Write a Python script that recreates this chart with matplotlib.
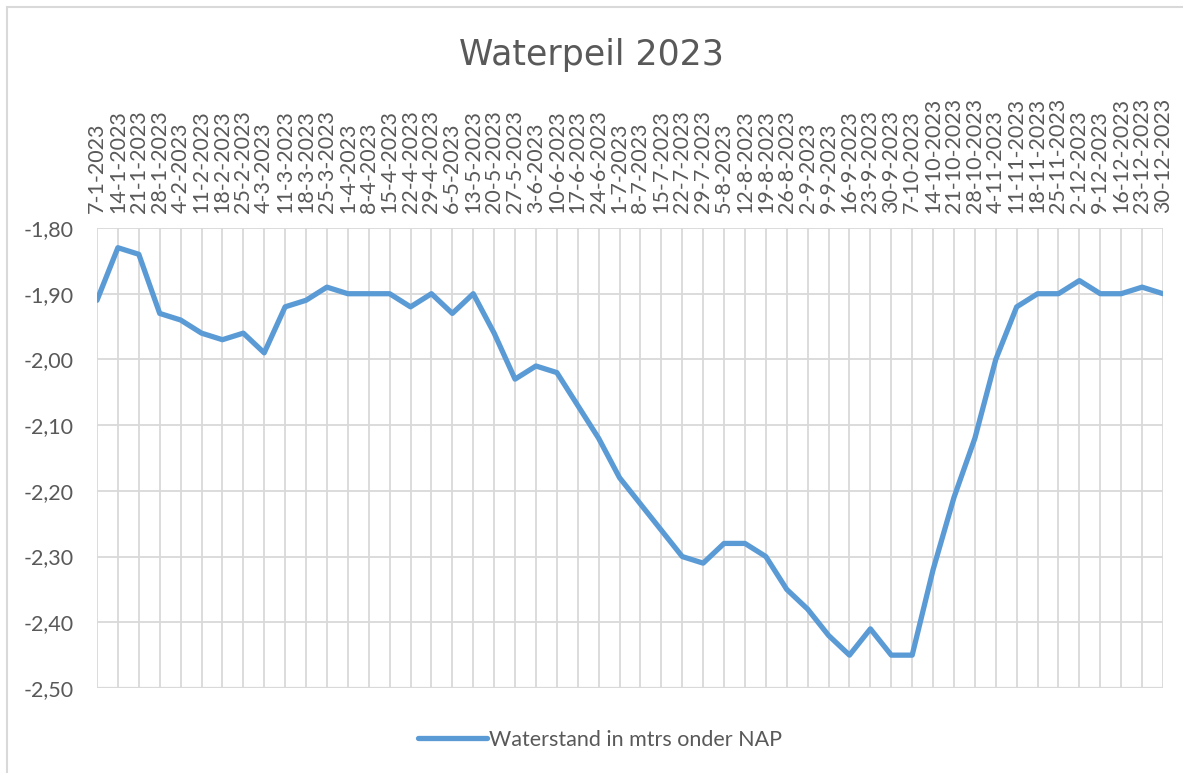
import matplotlib
matplotlib.use('Agg')
import matplotlib.pyplot as plt
from matplotlib.patches import Rectangle

# weekly readings (Saturday), water level in metres relative to NAP
dates = [
    '7-1-2023', '14-1-2023', '21-1-2023', '28-1-2023', '4-2-2023', '11-2-2023',
    '18-2-2023', '25-2-2023', '4-3-2023', '11-3-2023', '18-3-2023', '25-3-2023',
    '1-4-2023', '8-4-2023', '15-4-2023', '22-4-2023', '29-4-2023', '6-5-2023',
    '13-5-2023', '20-5-2023', '27-5-2023', '3-6-2023', '10-6-2023', '17-6-2023',
    '24-6-2023', '1-7-2023', '8-7-2023', '15-7-2023', '22-7-2023', '29-7-2023',
    '5-8-2023', '12-8-2023', '19-8-2023', '26-8-2023', '2-9-2023', '9-9-2023',
    '16-9-2023', '23-9-2023', '30-9-2023', '7-10-2023', '14-10-2023', '21-10-2023',
    '28-10-2023', '4-11-2023', '11-11-2023', '18-11-2023', '25-11-2023', '2-12-2023',
    '9-12-2023', '16-12-2023', '23-12-2023', '30-12-2023',
]
waterstand = [
    -1.91, -1.83, -1.84, -1.93, -1.94, -1.96, -1.97, -1.96, -1.99, -1.92,
    -1.91, -1.89, -1.90, -1.90, -1.90, -1.92, -1.90, -1.93, -1.90, -1.96,
    -2.03, -2.01, -2.02, -2.07, -2.12, -2.18, -2.22, -2.26, -2.30, -2.31,
    -2.28, -2.28, -2.30, -2.35, -2.38, -2.42, -2.45, -2.41, -2.45, -2.45,
    -2.32, -2.21, -2.12, -2.00, -1.92, -1.90, -1.90, -1.88, -1.90, -1.90,
    -1.89, -1.90,
]
y_ticks = [-2.5, -2.4, -2.3, -2.2, -2.1, -2.0, -1.9, -1.8]

grid_col = '#d9d9d9'
text_col = '#595959'
line_col = '#5b9bd5'

W, H = 1183, 773
fig = plt.figure(figsize=(W / 100, H / 100), dpi=100)
ax = fig.add_axes([97 / W, 1 - 688 / H, (1163 - 97) / W, (688 - 228) / H])

x = list(range(len(dates)))
ax.plot(x, waterstand, color=line_col, lw=3.8, solid_joinstyle='round',
        solid_capstyle='round', label='Waterstand in mtrs onder NAP', zorder=3)

ax.set_xlim(0, len(dates) - 1)
ax.set_ylim(-2.5, -1.8)
ax.set_yticks(y_ticks)
ax.set_yticklabels(['{:.2f}'.format(v).replace('.', ',') for v in y_ticks])
ax.set_xticks(x)
ax.set_xticklabels(dates, rotation=90)
ax.xaxis.tick_top()

ax.grid(True, color=grid_col, lw=1.3)
for s in ax.spines.values():
    s.set_visible(False)
ax.axhline(-2.5, color=grid_col, lw=1.6, zorder=2)
ax.tick_params(axis='both', length=0, colors=text_col, labelsize=15.5)
ax.tick_params(axis='x', pad=11)
ax.tick_params(axis='y', pad=17)
for lab in ax.get_xticklabels() + ax.get_yticklabels():
    lab.set_family('Lato')

fig.text(0.5, 1 - 55 / H, 'Waterpeil 2023', ha='center', va='center',
         fontsize=25, color=text_col)

fig.legend(loc='center', bbox_to_anchor=(0.507, 1 - 740 / H), frameon=False,
           handlelength=3.2, handletextpad=0.1,
           prop={'family': 'Lato', 'size': 15.5}, labelcolor=text_col)

# chart area border
fig.patches.append(Rectangle((7 / W, -0.01), 1.0, 1 - 7 / H + 0.01,
                             transform=fig.transFigure, fill=False,
                             edgecolor=grid_col, lw=1.5))

fig.savefig('out.png', dpi=100)
plt.close(fig)
